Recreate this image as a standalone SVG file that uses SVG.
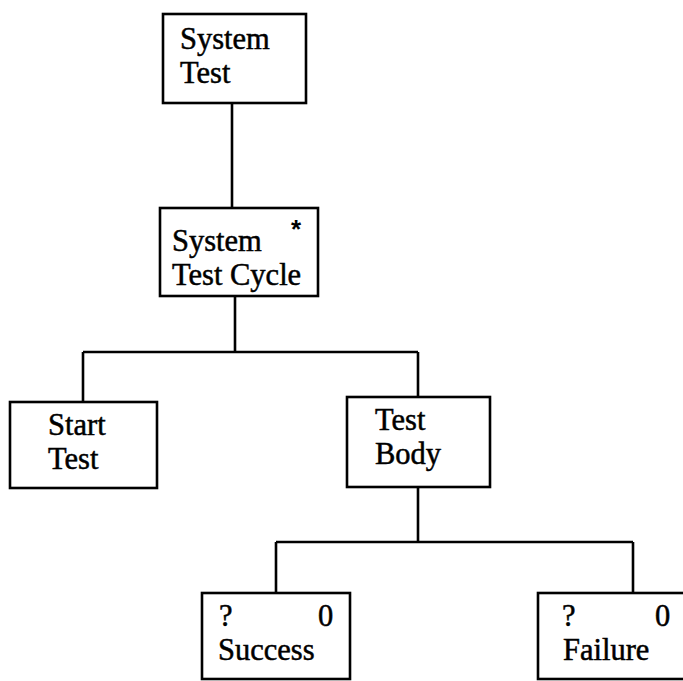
<svg xmlns="http://www.w3.org/2000/svg" width="683" height="681" viewBox="0 0 683 681">
  <style>
    .box { fill: #fff; stroke: #000; stroke-width: 2.6; }
    .wire { fill: none; stroke: #000; stroke-width: 2.6; }
    text { font-family: "Liberation Serif", "Times New Roman", serif; font-size: 30.5px; fill: #000; stroke: #000; stroke-width: 0.5; }
    .mark { font-family: "Liberation Sans", Arial, sans-serif; font-size: 26px; font-weight: bold; stroke-width: 0; }
  </style>
  <rect width="683" height="681" fill="#fff"/>

  <g id="connectors">
    <path class="wire" d="M232 103 V208"/>
    <path class="wire" d="M235 296 V352 M83 352 H418 M83 352 V402 M418 352 V397"/>
    <path class="wire" d="M418 487 V542 M276 542 H633 M276 542 V593 M633 542 V593"/>
  </g>

  <g id="system-test">
    <rect class="box" x="163" y="14" width="143" height="89"/>
    <text x="180" y="49">System</text>
    <text x="180" y="83">Test</text>
  </g>

  <g id="system-test-cycle">
    <rect class="box" x="160" y="208" width="158" height="88"/>
    <text class="mark" x="291" y="238">*</text>
    <text x="172" y="251">System</text>
    <text x="172" y="285">Test Cycle</text>
  </g>

  <g id="start-test">
    <rect class="box" x="10" y="402" width="147" height="86"/>
    <text x="48" y="435">Start</text>
    <text x="48" y="469">Test</text>
  </g>

  <g id="test-body">
    <rect class="box" x="347" y="397" width="143" height="90"/>
    <text x="375" y="430">Test</text>
    <text x="375" y="464">Body</text>
  </g>

  <g id="success">
    <rect class="box" x="202" y="593" width="148" height="86"/>
    <text x="219" y="626">?</text>
    <text x="318" y="626">0</text>
    <text x="218" y="660">Success</text>
  </g>

  <g id="failure">
    <rect class="box" x="538" y="593" width="160" height="86"/>
    <text x="562" y="626">?</text>
    <text x="655" y="626">0</text>
    <text x="563" y="660">Failure</text>
  </g>
</svg>
